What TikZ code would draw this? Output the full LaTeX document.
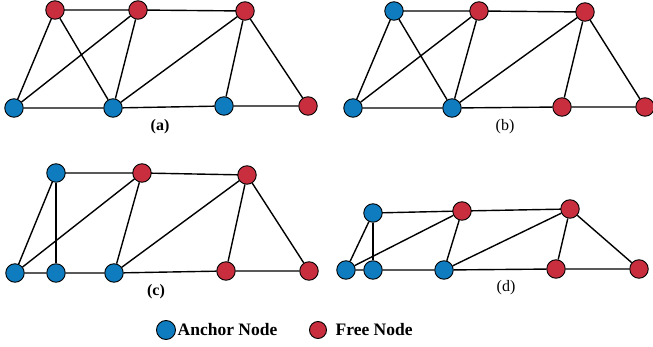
\documentclass[tikz,border=0pt]{standalone}
\usepackage{fontspec}
\setmainfont{Liberation Serif}
\usetikzlibrary{positioning}
\definecolor{ancblue}{HTML}{0F7CC0}
\definecolor{freered}{HTML}{C82E3E}
\begin{document}
\begin{tikzpicture}[x=1pt, y=-1pt, line width=1.4pt,
  anc/.style={draw, circle, fill=ancblue, minimum size=18.5pt, inner sep=0pt, line width=0.9pt},
  fre/.style={draw, circle, fill=freered, minimum size=18.5pt, inner sep=0pt, line width=0.9pt},
  subcap/.style={font=\fontsize{16}{18}\selectfont},
  keytxt/.style={font=\bfseries\fontsize{17.5}{20}\selectfont, inner sep=1pt}]
\useasboundingbox (0,0) rectangle (653,347);
% (a)
\draw (55,10) node[fre] (a1) {} -- (138,10) node[fre] (a2) {} -- (245,11) node[fre] (a3) {};
\node[anc] (a4) at (14,108) {} ;
\node[anc] (a5) at (113,108) {} ;
\node[anc] (a6) at (224,106) {} ;
\node[fre] (a7) at (308,106) {} ;
\draw (a1) -- (a4) -- (a2) -- (a5) -- (a1) ;
\draw (a4) -- (a5) -- (a6) -- (a7) -- (a3) -- (a6) ;
\draw (a3) -- (a5) ;
\node[subcap, font=\bfseries\fontsize{16}{18}\selectfont] (la) at (160,127) {(a)};
% (b)
\draw (394,11) node[anc] (b1) {} -- (479,11) node[fre] (b2) {} -- (585,12) node[fre] (b3) {};
\node[anc] (b4) at (353,108) {} ;
\node[anc] (b5) at (452,108) {} ;
\node[fre] (b6) at (562,107) {} ;
\node[fre] (b7) at (645,107) {} ;
\draw (b1) -- (b4) -- (b2) -- (b5) -- (b1) ;
\draw (b4) -- (b5) -- (b6) -- (b7) -- (b3) -- (b6) ;
\draw (b3) -- (b5) ;
\node[subcap] (lb) at (505,127) {(b)};
% (c)
\draw (56,173) node[anc] (c1) {} -- (142,173) node[fre] (c2) {} -- (247,175) node[fre] (c3) {};
\node[anc] (c4) at (15,273) {} ;
\node[anc] (c5) at (56,273) {} ;
\node[anc] (c6) at (114,273) {} ;
\node[fre] (c7) at (226,271) {} ;
\node[fre] (c8) at (309,271) {} ;
\draw (c1) -- (c4) -- (c2) -- (c6) ;
\draw (c1) -- (c5) ;
\draw (c4) -- (c5) -- (c6) -- (c7) -- (c8) -- (c3) -- (c7) ;
\draw (c3) -- (c6) ;
\node[subcap, font=\bfseries\fontsize{16}{18}\selectfont] (lc) at (156,292) {(c)};
% (d)
\draw (373,213) node[anc] (d1) {} -- (462,211) node[fre] (d2) {} -- (570,209) node[fre] (d3) {};
\node[anc] (d4) at (346,270) {} ;
\node[anc] (d5) at (373,270) {} ;
\node[anc] (d6) at (444,270) {} ;
\node[fre] (d7) at (556,269) {} ;
\node[fre] (d8) at (639,269) {} ;
\draw (d1) -- (d4) -- (d2) -- (d6) ;
\draw (d1) -- (d5) ;
\draw (d4) -- (d5) -- (d6) -- (d7) -- (d8) -- (d3) -- (d7) ;
\draw (d3) -- (d6) ;
\node[subcap] (ld) at (506,288) {(d)};
% legend
\node[anc, minimum size=17pt, minimum height=19pt] (kA) at (166,330) {} ;
\node[keytxt, right=0pt of kA] (tA) {Anchor Node};
\node[fre, minimum size=17pt] (kF) at (318,330) {} ;
\node[keytxt, right=7pt of kF] (tF) {Free Node};
\end{tikzpicture}
\end{document}
